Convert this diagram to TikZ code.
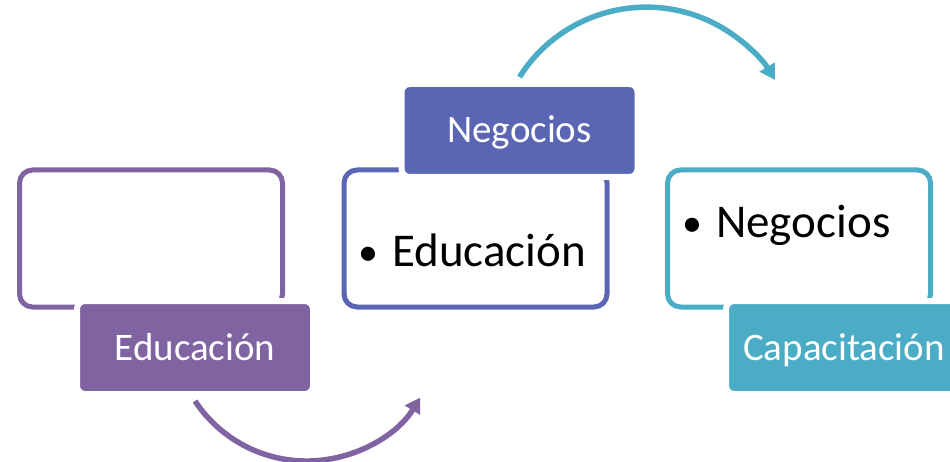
\documentclass[tikz,border=0pt]{standalone}
\usepackage{fontspec}
\setmainfont{Carlito}
\usetikzlibrary{arrows.meta}
\definecolor{cpurple}{HTML}{8064A2}
\definecolor{cblue}{HTML}{5A66B3}
\definecolor{cteal}{HTML}{4BACC6}
\newcommand{\mybul}{\makebox[34pt][l]{\raisebox{1.5pt}{\fontsize{40}{46}\selectfont•}}}
\begin{document}
\begin{tikzpicture}[x=1pt,y=1pt,
  outlinebox/.style={draw=#1, line width=5pt, rounded corners=13pt, fill=white,
    minimum width=263pt, minimum height=137pt, inner sep=0pt},
  labelbox/.style={fill=#1, draw=white, line width=6pt, rounded corners=8pt,
    minimum width=236pt, minimum height=93pt, inner sep=0pt,
    text=white, font=\fontsize{39}{45}\selectfont, text height=25pt, text depth=0pt},
  bullettext/.style={anchor=base west, inner sep=0pt, font=\fontsize{47}{54}\selectfont},
  curvearrow/.style={draw=#1, line width=5.5pt, -{Triangle[length=15pt,width=17pt]}}
]
\useasboundingbox (0,0) rectangle (950,461);
% outline boxes
\node[outlinebox=cpurple] (box1) at (151,222.5) {};
\node[outlinebox=cblue] (box2) at (475.5,222.5) {};
\node[outlinebox=cteal] (box3) at (799,222.5) {};
% texts in boxes
\node[bullettext] (t2) at (358,194) {\mybul Educación};
\node[bullettext] (t3) at (682,223) {\mybul Negocios};
% labels
\node[labelbox=cpurple] (lab1) at (195,113.5) {Educación};
\node[labelbox=cblue] (lab2) at (519.5,330.5) {Negocios};
\node[labelbox=cteal] (lab3) at (844,113.5) {Capacitación};
% arrows
\draw[curvearrow=cpurple] ([yshift=-4pt]lab1.south) arc[start angle=213.4, end angle=328.4, radius=133.6];
\draw[curvearrow=cteal] ([yshift=4pt]lab2.north) arc[start angle=147.7, end angle=31, radius=150];
\end{tikzpicture}
\end{document}
